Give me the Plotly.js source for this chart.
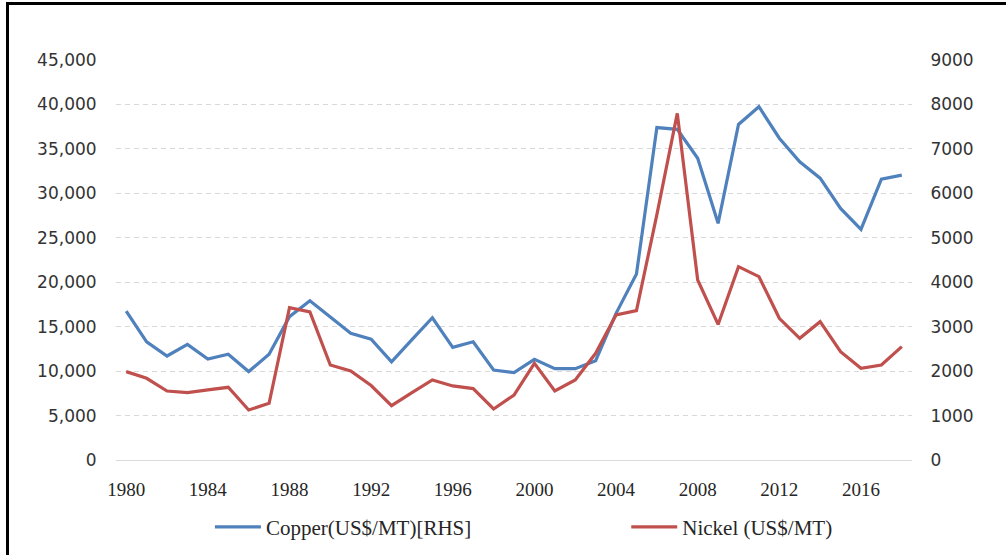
<!DOCTYPE html>
<html>
<head>
<meta charset="utf-8">
<script src="https://cdn.plot.ly/plotly-3.0.1.min.js"></script>
<style>
  html, body { margin: 0; padding: 0; background: #fff; }
  #chart { width: 1006px; height: 555px; }
  #frame {
    position: absolute; left: 6px; top: 2px; width: 1010px; height: 560px;
    border-left: 3px solid #000; border-top: 3px solid #000;
    pointer-events: none;
  }
</style>
</head>
<body>
<div id="chart"></div>
<div id="frame"></div>
<script>
var years = [];
for (var y = 1980; y <= 2018; y++) years.push(y);

// copper, read against the right hand axis
var copper = [3350, 2660, 2340, 2600, 2270, 2380, 1990, 2380, 3225, 3585,
              3215, 2850, 2720, 2210, 2710, 3200, 2535, 2660, 2025, 1965,
              2265, 2055, 2055, 2235, 3300, 4185, 7480, 7440, 6790, 5325,
              7550, 7950, 7240, 6710, 6340, 5660, 5190, 6320, 6410];

// nickel, read against the left hand axis
var nickel = [9940, 9190, 7760, 7580, 7880, 8180, 5630, 6380, 17140, 16650,
              10690, 10010, 8380, 6110, 7580, 9000, 8330, 8030, 5740, 7310,
              10880, 7760, 9000, 12000, 16310, 16800, 27600, 39000, 20250, 15250,
              21750, 20630, 15940, 13690, 15560, 12190, 10310, 10690, 12750];

var xTicks = [1980, 1984, 1988, 1992, 1996, 2000, 2004, 2008, 2012, 2016];

var legendFont = {family: 'Liberation Serif, serif', size: 21, color: '#262626'};

var traces = [
  {
    x: years, y: copper, name: 'Copper(US$/MT)[RHS]',
    type: 'scatter', mode: 'lines', yaxis: 'y', legend: 'legend',
    line: {color: '#4F81BD', width: 3.2}
  },
  {
    x: years, y: nickel, name: 'Nickel (US$/MT)',
    type: 'scatter', mode: 'lines', yaxis: 'y2', legend: 'legend2',
    line: {color: '#C0504D', width: 3.2}
  }
];

var layout = {
  width: 1006, height: 555,
  margin: {l: 116, r: 94, t: 60, b: 95, autoexpand: false},
  paper_bgcolor: '#fff', plot_bgcolor: '#fff',
  showlegend: true,
  legend: {
    orientation: 'h', x: 0.118, xanchor: 'left', y: -0.168, yanchor: 'middle',
    itemwidth: 46, font: legendFont
  },
  legend2: {
    orientation: 'h', x: 0.641, xanchor: 'left', y: -0.168, yanchor: 'middle',
    itemwidth: 46, font: legendFont
  },
  xaxis: {
    range: [1979.5, 2018.5],
    tickvals: xTicks,
    showgrid: false, zeroline: false,
    showline: true, linecolor: '#d9d9d9', linewidth: 1,
    ticks: 'outside', ticklen: 12, tickcolor: 'rgba(0,0,0,0)',
    tickfont: {family: 'Liberation Serif, serif', size: 19, color: '#262626'}
  },
  yaxis: {
    side: 'right',
    range: [0, 9000], dtick: 1000, tickformat: 'd',
    showgrid: true, gridcolor: '#d9d9d9', griddash: '5px,4px', gridwidth: 1,
    zeroline: true, zerolinecolor: '#d9d9d9', zerolinewidth: 1,
    ticks: 'outside', ticklen: 14, tickcolor: 'rgba(0,0,0,0)',
    tickfont: {family: 'DejaVu Sans, sans-serif', size: 17, color: '#333'}
  },
  yaxis2: {
    overlaying: 'y', side: 'left',
    range: [0, 45000], dtick: 5000, tickformat: ',d',
    showgrid: false, zeroline: false,
    ticks: 'outside', ticklen: 15, tickcolor: 'rgba(0,0,0,0)',
    tickfont: {family: 'DejaVu Sans, sans-serif', size: 17, color: '#333'}
  }
};

Plotly.newPlot('chart', traces, layout, {displayModeBar: false, staticPlot: true});
</script>
</body>
</html>
